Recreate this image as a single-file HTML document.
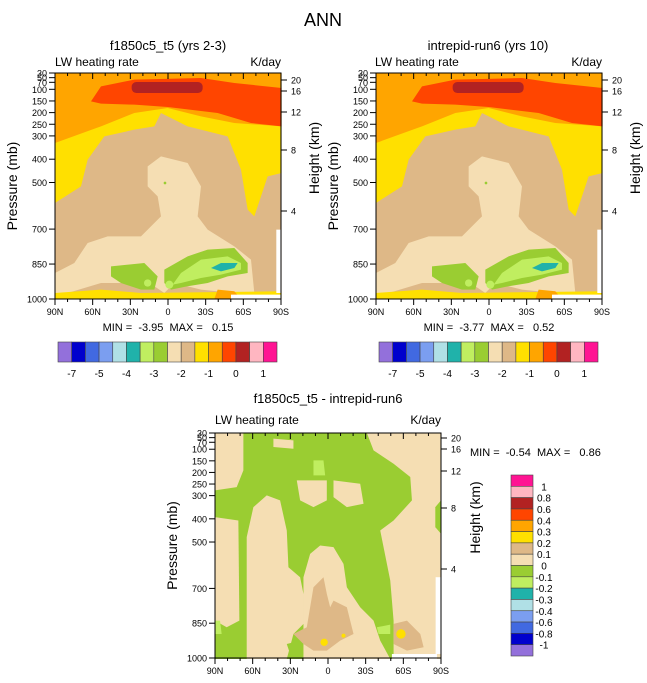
<!DOCTYPE html>
<html><head><meta charset="utf-8"><style>
body{margin:0;background:#fff}
svg{display:block;font-family:"Liberation Sans",sans-serif}
</style></head><body>
<svg width="647" height="683" viewBox="0 0 647 683" xmlns="http://www.w3.org/2000/svg">
<defs>
<clipPath id="cp"><rect x="162" y="130" width="680" height="678"/></clipPath>
<g id="top" clip-path="url(#cp)">
<rect x="162" y="130" width="680" height="678" fill="#DEB887"/>
<polygon fill="#FFE000" points="162,130 842,130 842,430 800,440 760,560 740,540 720,420 680,320 560,290 480,250 460,290 400,300 310,320 260,390 240,470 162,520"/>
<polygon fill="#FFA500" points="162,130 842,130 842,290 700,280 600,260 500,235 400,250 300,290 162,340"/>
<polygon fill="#FF4500" points="270,215 300,170 400,150 600,145 700,160 842,175 842,290 750,280 650,250 500,232 400,225 300,222"/>
<rect x="392" y="157" width="213" height="33" rx="14" fill="#B22222"/>
<polygon fill="#F5DEB3" points="440,410 480,380 560,400 600,470 590,560 620,600 700,650 750,690 760,790 700,790 600,780 520,760 490,790 460,770 400,760 300,760 200,790 162,790 162,730 220,700 260,640 320,620 420,620 480,560 470,500 440,470"/>
<polygon fill="#9ACD32" points="330,710 430,700 470,740 460,780 420,780 360,760 330,740"/>
<polygon fill="#9ACD32" points="490,720 560,680 620,660 700,655 740,700 740,730 680,740 620,760 560,770 510,780 490,760"/>
<polygon fill="#C0EE60" points="540,730 600,690 680,680 720,700 720,720 660,735 600,745 540,760 515,765"/>
<circle cx="505" cy="765" r="12" fill="#C0EE60"/>
<circle cx="440" cy="760" r="11" fill="#C0EE60"/>
<polygon fill="#20B2AA" points="630,715 660,700 710,700 700,715 660,725"/>
<circle cx="492" cy="460" r="4" fill="#9ACD32"/>
<polygon fill="#FFE000" points="162,790 300,780 420,790 842,785 842,808 162,808"/>
<polygon fill="#FFA500" points="640,808 650,780 700,785 720,808"/>
<rect x="690" y="795" width="152" height="13" fill="#fff"/>
<rect x="826" y="600" width="16" height="190" fill="#fff"/>
</g>
<clipPath id="cp2"><rect x="165" y="38" width="677" height="677"/></clipPath>
<g id="bot" clip-path="url(#cp2)">
<rect x="165" y="38" width="677" height="677" fill="#9ACD32"/>
<polygon fill="#F5DEB3" points="165,38 250,38 250,150 230,200 165,210"/>
<polygon fill="#F5DEB3" points="165,290 235,300 238,600 200,620 165,600"/>
<polygon fill="#F5DEB3" points="260,715 260,350 280,260 320,225 360,240 380,330 385,440 420,470 430,520 440,600 400,640 380,715"/>
<polygon fill="#F5DEB3" points="430,715 430,470 450,400 480,375 520,380 550,430 560,500 600,560 640,600 660,660 690,715"/>
<polygon fill="#F5DEB3" points="620,38 842,38 842,715 700,715 700,600 690,480 660,330 700,300 755,240 750,170 700,130 640,90"/>
<polygon fill="#F5DEB3" points="410,180 500,180 500,240 460,260 420,240"/>
<polygon fill="#F5DEB3" points="520,180 600,190 610,250 560,260 520,230"/>
<polygon fill="#F5DEB3" points="340,55 400,60 400,85 340,80"/>
<polygon fill="#C0EE60" points="460,120 490,120 495,165 460,165"/>
<polygon fill="#9ACD32" points="825,260 842,240 842,340 825,320"/>
<polygon fill="#9ACD32" points="380,670 420,660 430,700 390,700"/>
<polygon fill="#C0EE60" points="165,600 180,600 185,640 165,640"/>
<polygon fill="#C0EE60" points="650,620 690,612 690,640 655,640"/>
<polygon fill="#DEB887" points="440,620 460,500 490,470 500,520 510,560 520,540 560,560 580,640 540,660 500,690 460,690 430,670 400,640"/>
<polygon fill="#DEB887" points="700,610 740,600 780,640 790,680 740,690 700,670"/>
<circle cx="492" cy="665" r="11" fill="#FFE000"/>
<circle cx="722" cy="640" r="14" fill="#FFE000"/>
<circle cx="550" cy="645" r="6" fill="#FFE000"/>
<rect x="695" y="700" width="135" height="15" fill="#fff"/>
<rect x="826" y="470" width="16" height="230" fill="#fff"/>
</g>
</defs>

<text x="323" y="26" font-size="18" text-anchor="middle">ANN</text>

<text x="168" y="50" font-size="13" text-anchor="middle">f1850c5_t5 (yrs 2-3)</text>
<text x="55" y="66" font-size="12">LW heating rate</text>
<text x="281" y="66" font-size="12" text-anchor="end">K/day</text>
<g transform="translate(55,73) scale(0.3333) translate(-162,-130)"><use href="#top"/></g>

<text x="488" y="50" font-size="13" text-anchor="middle">intrepid-run6 (yrs 10)</text>
<text x="375" y="66" font-size="12">LW heating rate</text>
<text x="602" y="66" font-size="12" text-anchor="end">K/day</text>
<g transform="translate(376,73) scale(0.3333) translate(-162,-130)"><use href="#top"/></g>

<text x="328" y="403" font-size="13" text-anchor="middle">f1850c5_t5 - intrepid-run6</text>
<text x="215" y="424" font-size="12">LW heating rate</text>
<text x="441" y="424" font-size="12" text-anchor="end">K/day</text>
<g transform="translate(215,433) scale(0.3338) translate(-165,-38)"><use href="#bot"/></g>

<script>
(function(){
var ns="http://www.w3.org/2000/svg",svg=document.querySelector("svg");
function el(t,a,txt){var e=document.createElementNS(ns,t);for(var k in a)e.setAttribute(k,a[k]);if(txt!=null)e.textContent=txt;svg.appendChild(e);return e;}
function panel(x0,y0,w,h,hlab,hx){
 el("rect",{x:x0,y:y0,width:w,height:h,fill:"none",stroke:"#000","stroke-width":1});
 var ps=[30,50,70,100,150,200,250,300,400,500,700,850,1000];
 ps.forEach(function(p){var y=y0+(p-30)/970*h;
  el("line",{x1:x0-6,x2:x0,y1:y,y2:y,stroke:"#000"});
  el("text",{x:x0-8,y:y+3.5,"font-size":"9","text-anchor":"end"},String(p));});
 var lats=["90N","60N","30N","0","30S","60S","90S"];
 for(var i=0;i<=18;i++){var x=x0+w*i/18;var L=(i%3==0)?6:3;
  el("line",{x1:x,x2:x,y1:y0+h,y2:y0+h+L,stroke:"#000"});
  el("line",{x1:x,x2:x,y1:y0,y2:y0+L,stroke:"#000"});
  if(i%3==0)el("text",{x:x,y:y0+h+16,"font-size":"9","text-anchor":"middle"},lats[i/3]);}
 var hv=[20,16,12,8,4];
 hv.forEach(function(v,j){var y=hlab[j];el("line",{x1:x0+w,x2:x0+w+6,y1:y,y2:y,stroke:"#000"});
  el("text",{x:x0+w+10,y:y+3.5,"font-size":"9"},String(v));});
 el("text",{x:0,y:0,"font-size":"14","text-anchor":"middle",transform:"translate("+(x0-38)+","+(y0+h/2)+") rotate(-90)"},"Pressure (mb)");
 el("text",{x:0,y:0,"font-size":"14","text-anchor":"middle",transform:"translate("+(hx)+","+(y0+h/2-28)+") rotate(-90)"},"Height (km)");
}
panel(55,73,226,226,[80,91,112,150,211],319);
panel(376,73,226,226,[80,91,112,150,211],640);
panel(215,433,226,225,[438,449,471,508,569],480);
function mm(x,y,s,anc){var t=el("text",{x:x,y:y,"font-size":"11","text-anchor":anc});t.setAttributeNS("http://www.w3.org/XML/1998/namespace","xml:space","preserve");t.textContent=s;}
mm(168,331,"MIN =  -3.95  MAX =   0.15","middle");
mm(489,331,"MIN =  -3.77  MAX =   0.52","middle");
mm(470,456,"MIN =  -0.54  MAX =   0.86","start");
var cols=["#9370DB","#0000CD","#4169E1","#7B9EF0","#B0E0E6","#20B2AA","#C0EE60","#9ACD32","#F5DEB3","#DEB887","#FFE000","#FFA500","#FF4500","#B22222","#FFB6C1","#FF1493"];
var labs={1:"-7",3:"-5",5:"-4",7:"-3",9:"-2",11:"-1",13:"0",15:"1"};
[58,379].forEach(function(bx){var bw=219/16;
 for(var i=0;i<16;i++)el("rect",{x:bx+i*bw,y:342,width:bw,height:20,fill:cols[i],stroke:"#444","stroke-width":0.6});
 for(var k in labs)el("text",{x:bx+k*bw,y:377,"font-size":"10","text-anchor":"middle"},labs[k]);});
var bl=["1","0.8","0.6","0.4","0.3","0.2","0.1","0","-0.1","-0.2","-0.3","-0.4","-0.6","-0.8","-1"];
var bh=181/16;
for(var i=0;i<16;i++)el("rect",{x:511,y:475+i*bh,width:22,height:bh,fill:cols[15-i],stroke:"#444","stroke-width":0.6});
bl.forEach(function(s,k){el("text",{x:544,y:475+(k+1)*bh+4,"font-size":"10","text-anchor":"middle"},s);});
})();
</script>
</svg>
</body></html>
